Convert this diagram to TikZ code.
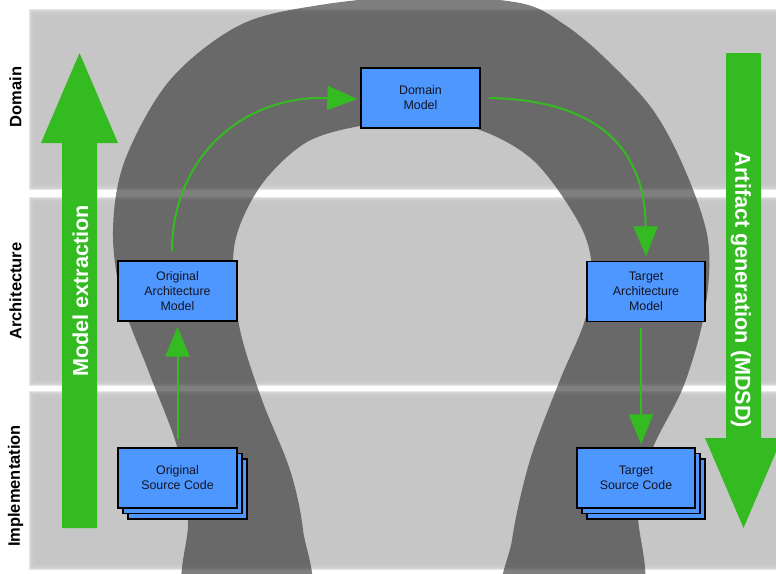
\documentclass[tikz,border=0pt]{standalone}
\usepackage{fontspec}
\setmainfont{Liberation Sans}
\usetikzlibrary{arrows.meta}
\definecolor{bandgray}{RGB}{198,198,198}
\definecolor{shoegray}{RGB}{48,46,47}
\definecolor{grn}{RGB}{52,187,34}
\definecolor{boxblue}{RGB}{78,151,254}
\definecolor{boxtext}{RGB}{20,20,35}
\tikzset{
  mbox/.style={draw=black, line width=1.3pt, fill=boxblue, minimum width=119pt,
    minimum height=60pt, align=center, inner sep=0pt, text=boxtext,
    font=\fontsize{12.4}{15}\selectfont},
  garrow/.style={draw=grn, line width=2pt, -{Triangle[width=24pt,length=30pt]}},
  bigarrow/.style={fill=grn},
  bandlabel/.style={rotate=90, font=\bfseries\fontsize{16.5}{20}\selectfont, text=black},
  biglabel/.style={font=\bfseries\fontsize{21.6}{26}\selectfont, text=white}
}
\begin{document}
\begin{tikzpicture}[x=1pt,y=-1pt]
\useasboundingbox (0,0) rectangle (776,573);
% bands with soft edges
\foreach \t/\b in {12/186, 200/382, 394/566} {
  \foreach \d in {-3.5,-2.5,...,3.5} {
    \fill[bandgray, fill opacity=0.45] (32+\d, \t+\d) rectangle (790, \b-\d);
  }
}
% horseshoe
\fill[shoegray, fill opacity=0.61] plot[smooth cycle, tension=0.55] coordinates {
  (189,600) (188,520) (178,450) (150,375) (122,300) (113,230) (125,160)
  (170,80) (240,25) (320,5) (420,-4) (520,3) (565,25) (607,60) (653,110)
  (685,170) (708,240) (705,310) (684,385) (652,450) (638,510) (637,600)
  (510,600) (512,540) (530,460) (560,380) (585,320) (592,270) (580,225)
  (535,162) (480,130) (420,121) (360,126) (307,142) (265,180) (240,225)
  (233,265) (240,330) (262,400) (290,470) (303,530) (305,600)
};
% big arrows
\fill[bigarrow] (62,528) -- (97,528) -- (97,143) -- (118,143) -- (79.5,53)
  -- (41,143) -- (62,143) -- cycle;
\fill[bigarrow] (726,53) -- (761,53) -- (761,438) -- (782,438) -- (743.5,528)
  -- (705,438) -- (726,438) -- cycle;
\node[biglabel, rotate=90] (mext) at (80.5,291) {Model extraction};
\node[biglabel, rotate=-90] (agen) at (741,290) {Artifact generation (MDSD)};
% band labels
\node[bandlabel] (ldom) at (15.5,97) {Domain};
\node[bandlabel] (larch) at (15.5,291) {Architecture};
\node[bandlabel] (limpl) at (15.5,486) {Implementation};
% model nodes
\node[mbox] (dm) at (420.5,98) {Domain\\Model};
\node[mbox] (oam) at (177.5,291) {Original\\Architecture\\Model};
\node[mbox, minimum width=118pt] (tam) at (646,291.5) {Target\\Architecture\\Model};
\node[mbox] (osc3) at (187.5,489) {};
\node[mbox] (osc2) at (182.5,483.5) {};
\node[mbox] (osc) at (177.5,478) {Original\\Source Code};
\node[mbox, minimum width=118pt] (tsc3) at (646,489) {};
\node[mbox, minimum width=118pt] (tsc2) at (641,483.5) {};
\node[mbox, minimum width=118pt] (tsc) at (636,478) {Target\\Source Code};
% connectors
\draw[garrow] ([yshift=8pt]osc.north) -- ([yshift=-5pt]oam.south);
\draw[garrow] ([xshift=-5.5pt,yshift=9pt]oam.north) .. controls (172,160) and (240,95) .. ([xshift=-3pt,yshift=-1pt]dm.west);
\draw[garrow] ([xshift=8pt]dm.east) .. controls (600,100) and (645,150) .. ([yshift=4.5pt]tam.north);
\draw[garrow] ([xshift=-5pt,yshift=-6pt]tam.south) -- ([xshift=5pt,yshift=3pt]tsc.north);
\end{tikzpicture}
\end{document}
